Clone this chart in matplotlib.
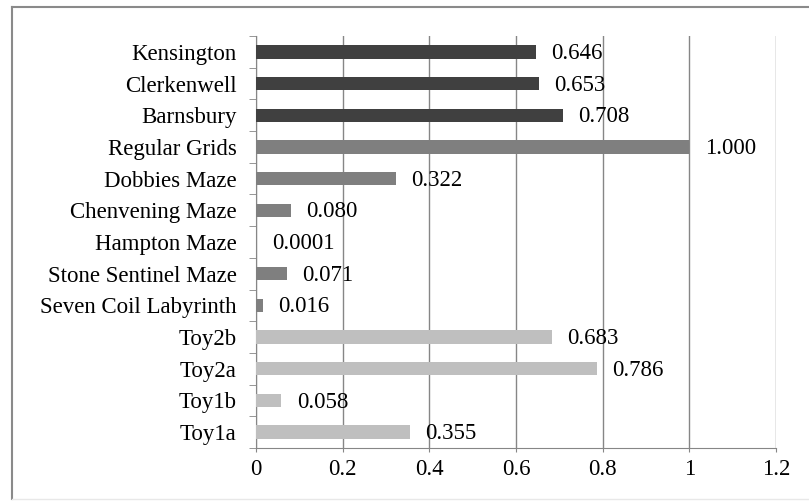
import matplotlib.pyplot as plt
from matplotlib.lines import Line2D

# categories from bottom to top
labels = ['Toy1a', 'Toy1b', 'Toy2a', 'Toy2b', 'Seven Coil Labyrinth',
          'Stone Sentinel Maze', 'Hampton Maze', 'Chenvening Maze',
          'Dobbies Maze', 'Regular Grids', 'Barnsbury', 'Clerkenwell',
          'Kensington']
values = [0.355, 0.058, 0.786, 0.683, 0.016, 0.071, 0.0001, 0.080,
          0.322, 1.000, 0.708, 0.653, 0.646]
value_text = ['0.355', '0.058', '0.786', '0.683', '0.016', '0.071', '0.0001',
              '0.080', '0.322', '1.000', '0.708', '0.653', '0.646']
groups = ['toy'] * 4 + ['maze'] * 6 + ['city'] * 3
group_colors = {'toy': '#bfbfbf', 'maze': '#7f7f7f', 'city': '#404040'}

plt.rcParams['font.family'] = 'Liberation Serif'
fs = 16.5

fig = plt.figure(figsize=(8.09, 5.03), dpi=100)
ax = fig.add_axes([256 / 809, 1 - 448 / 503, (776 - 256) / 809, (448 - 36) / 503])

ypos = list(range(len(labels)))
ax.barh(ypos, values, height=0.42, color=[group_colors[g] for g in groups], zorder=3)

for y, v, t in zip(ypos, values, value_text):
    ax.text(v + 0.036, y - 0.05, t, va='center', ha='left', fontsize=fs, zorder=4)

ax.set_xlim(0, 1.2)
ax.set_ylim(-0.5, len(labels) - 0.5)
ax.set_xticks([0, 0.2, 0.4, 0.6, 0.8, 1, 1.2])
ax.set_xticklabels(['0', '0.2', '0.4', '0.6', '0.8', '1', '1.2'], fontsize=fs)
ax.set_yticks(ypos)
ax.set_yticklabels(labels, fontsize=fs)
ax.tick_params(axis='y', length=0, pad=14)
ax.tick_params(axis='x', length=3, color='#868686', pad=5)
# small ticks between the categories on the vertical axis
ax.set_yticks([y - 0.5 for y in range(len(labels) + 1)], minor=True)
ax.tick_params(axis='y', which='minor', length=5, color='#868686')

ax.grid(axis='x', color='#868686', linewidth=1, zorder=0)
for side in ['top', 'right']:
    ax.spines[side].set_visible(False)
ax.spines['left'].set_color('#868686')
ax.spines['bottom'].set_color('#868686')

# outer frame
fig.add_artist(Line2D([12 / 809, 12 / 809], [1 - 7 / 503, 1 - 499 / 503],
                      transform=fig.transFigure, color='#8a8a8a', linewidth=1.5))
fig.add_artist(Line2D([12 / 809, 1], [1 - 7 / 503, 1 - 7 / 503],
                      transform=fig.transFigure, color='#8a8a8a', linewidth=1.5))
fig.add_artist(Line2D([12 / 809, 1], [1 - 499 / 503, 1 - 499 / 503],
                      transform=fig.transFigure, color='#e8e8e8', linewidth=1))

fig.savefig('out.png', dpi=100)
